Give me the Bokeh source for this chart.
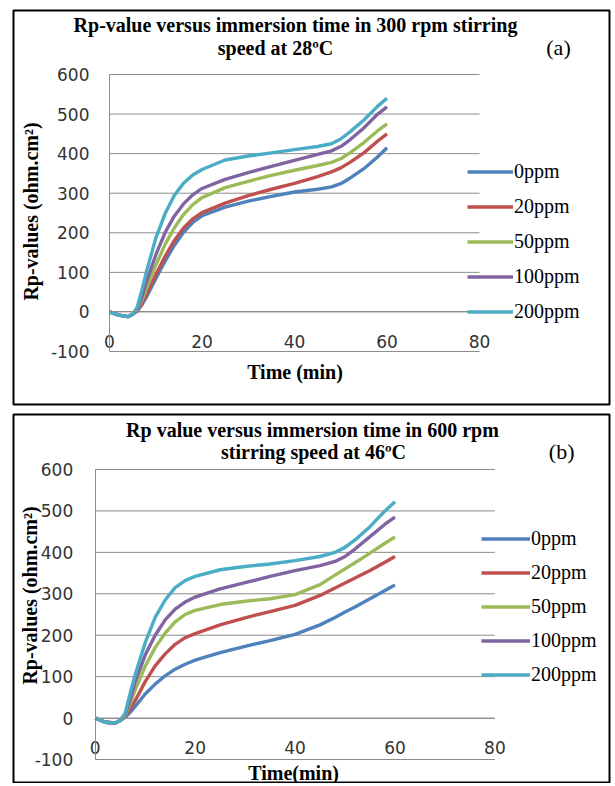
import math
from bokeh.plotting import figure
from bokeh.models import Range1d, Label, Legend, LegendItem, FixedTicker, PrintfTickFormatter
from bokeh.layouts import column
from bokeh.embed import file_html
from bokeh.resources import INLINE

# ---------------- data ----------------
time_min = [0, 2, 4, 5, 6, 7, 8, 10, 12, 14, 16, 18, 20, 25, 30, 35, 40, 45, 48, 50, 52, 55, 58, 60]
series_names = ["0ppm", "20ppm", "50ppm", "100ppm", "200ppm"]
colors = ["#4F81BD", "#C0504D", "#9BBB59", "#8064A2", "#4BACC6"]

# panel (a): 300 rpm, 28 C
a_0ppm = [0, -8, -12, -6, 2, 18, 38, 84, 128, 168, 201, 226, 243, 265, 280, 292, 303, 310, 316, 324, 338, 362, 392, 415]
a_20ppm = [0, -8, -12, -6, 4, 22, 45, 94, 140, 180, 212, 235, 251, 275, 294, 310, 325, 342, 354, 364, 378, 402, 432, 450]
a_50ppm = [0, -8, -12, -6, 6, 30, 60, 118, 170, 212, 246, 271, 289, 314, 330, 345, 358, 370, 378, 387, 402, 428, 458, 475]
a_100ppm = [0, -8, -12, -6, 8, 38, 76, 144, 200, 242, 273, 296, 312, 335, 352, 368, 383, 398, 407, 418, 435, 465, 500, 518]
a_200ppm = [0, -8, -12, -6, 12, 55, 102, 186, 248, 294, 325, 346, 360, 384, 394, 402, 410, 418, 425, 437, 455, 485, 520, 540]

# panel (b): 600 rpm, 46 C
b_0ppm = [0, -10, -12, -6, 2, 14, 28, 58, 82, 102, 118, 130, 140, 158, 173, 187, 202, 225, 243, 256, 268, 288, 308, 321]
b_20ppm = [0, -10, -12, -6, 4, 22, 42, 88, 126, 155, 178, 194, 204, 225, 242, 257, 272, 296, 314, 326, 338, 356, 376, 390]
b_50ppm = [0, -10, -12, -6, 6, 35, 68, 125, 170, 205, 232, 250, 260, 274, 282, 288, 298, 322, 345, 360, 375, 398, 422, 437]
b_100ppm = [0, -10, -12, -6, 8, 45, 88, 152, 200, 237, 263, 280, 292, 312, 327, 342, 356, 368, 378, 390, 408, 438, 468, 485]
b_200ppm = [0, -10, -12, -6, 12, 60, 105, 182, 243, 285, 315, 332, 342, 358, 366, 372, 380, 390, 400, 412, 430, 462, 500, 522]

y_ticks = [-100, 0, 100, 200, 300, 400, 500, 600]
x_ticks = [0, 20, 40, 60, 80]

SERIF = "Liberation Serif"
SANS = "DejaVu Sans"
GRID = "#8c8c8c"
ORIGIN = 1      # page offset of the canvas
W = 612


def make_panel(series, texts, fig_top, fig_h, box, inner, text_px, legend_px,
               lspacing, gw, tick_standoff):
    """box: page px (left, top, right, bottom) of the black frame;
    inner: page px of x=0, x=80, y=600, y=-100 of the chart area."""
    bl, bt, br, bb = box
    x0p, x80p, y600p, ym100p = inner
    sx = (x80p - x0p) / (x_ticks[-1] - x_ticks[0])
    sy = (ym100p - y600p) / (y_ticks[-1] - y_ticks[0])
    dx = lambda px: x_ticks[0] + (px - x0p) / sx
    dy = lambda py: y_ticks[-1] - (py - y600p) / sy

    p = figure(width=W, height=fig_h, output_backend="svg", toolbar_location=None,
               x_range=Range1d(dx(bl), dx(br)), y_range=Range1d(dy(bb), dy(bt)),
               min_border_left=bl - ORIGIN, min_border_right=W - (br - ORIGIN),
               min_border_top=bt - fig_top, min_border_bottom=fig_top + fig_h - bb)
    p.outline_line_color = "black"
    p.outline_line_width = 2
    p.background_fill_color = "white"
    p.border_fill_color = "white"
    p.xgrid.visible = False
    p.ygrid.visible = False

    # horizontal gridlines of the chart area
    p.segment(x0=[x_ticks[0]] * len(y_ticks), x1=[x_ticks[-1]] * len(y_ticks),
              y0=y_ticks, y1=y_ticks, line_color=GRID, line_width=1)

    p.yaxis.ticker = FixedTicker(ticks=y_ticks)
    p.xaxis.ticker = FixedTicker(ticks=x_ticks)
    p.xaxis.fixed_location = 0
    p.yaxis.fixed_location = 0
    p.xaxis.bounds = (x_ticks[0], x_ticks[-1])
    p.yaxis.bounds = (y_ticks[0], y_ticks[-1])
    for ax in (p.xaxis, p.yaxis):
        ax.formatter = PrintfTickFormatter(format="%d")
        ax.axis_line_color = GRID
        ax.major_tick_line_color = None
        ax.minor_tick_line_color = None
        ax.major_tick_in = 0
        ax.major_tick_out = 0
        ax.minor_tick_out = 0
        ax.major_label_text_font = SANS
        ax.major_label_text_font_size = "17px"
        ax.major_label_text_color = "#333333"
    p.yaxis.major_label_standoff = tick_standoff
    p.xaxis.major_label_standoff = 23

    items = []
    for name, ys, c in zip(series_names, series, colors):
        r = p.line(time_min, ys, line_color=c, line_width=3.4)
        items.append(LegendItem(label=name, renderers=[r]))

    lx, ly = legend_px
    legend = Legend(items=items, location=(lx - bl, bb - ly), orientation="vertical",
                    background_fill_alpha=0, border_line_color=None,
                    padding=0, margin=0, spacing=lspacing,
                    glyph_width=gw, glyph_height=23, label_height=23,
                    label_standoff=1, label_text_font=SERIF,
                    label_text_font_size="20px", label_text_color="black")
    p.add_layout(legend, "center")

    for txt, (px, py), bold, size, angle in zip(texts, text_px,
                                                (True, True, False, True, True),
                                                ("20px", "20px", "22px", "20px", "20px"),
                                                (0, 0, 0, 0, math.pi / 2)):
        p.add_layout(Label(x=dx(px), y=dy(py), text=txt, text_align="center",
                           text_baseline="middle", text_font=SERIF,
                           text_font_style="bold" if bold else "normal",
                           text_font_size=size, text_color="black", angle=angle))
    return p


pa = make_panel([a_0ppm, a_20ppm, a_50ppm, a_100ppm, a_200ppm],
                ["Rp-value versus immersion time in 300 rpm stirring",
                 "speed at 28ºC", "(a)", "Time (min)", "Rp-values (ohm.cm²)"],
                ORIGIN, 409, (14, 11, 610, 405), (110, 480, 75, 352),
                [(296, 25), (276, 48), (559, 48), (295.5, 372), (31, 212)],
                (468, 323.5), 12, 46, 20)

pb = make_panel([b_0ppm, b_20ppm, b_50ppm, b_100ppm, b_200ppm],
                ["Rp value versus immersion time in 600 rpm",
                 "stirring speed at 46ºC", "(b)", "Time(min)", "Rp-values (ohm.cm²)"],
                ORIGIN + 409, 374, (13, 415, 611, 784), (95, 496, 470, 760),
                [(313, 430), (314, 452), (563, 452), (294, 773), (30, 596)],
                (481, 686.5), 11, 49, 22)

layout = column(pa, pb)
open("out.html", "w").write(file_html(layout, INLINE))
